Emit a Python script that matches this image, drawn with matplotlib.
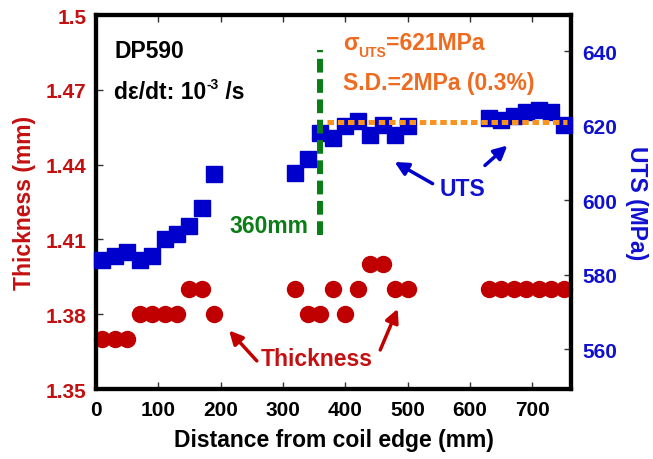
import matplotlib
matplotlib.use("Agg")
import matplotlib.pyplot as plt
from matplotlib.transforms import offset_copy

plt.rcParams['font.family'] = ['Liberation Sans', 'DejaVu Sans']
plt.rcParams['font.weight'] = 'bold'

# thickness measurements along the strip width
thick_x = [10, 30, 50, 70, 90, 110, 130, 150, 170, 190,
           320, 340, 360, 380, 400, 420, 440, 460, 480, 500,
           630, 650, 670, 690, 710, 730, 750]
thick_y = [1.37, 1.37, 1.37, 1.38, 1.38, 1.38, 1.38, 1.39, 1.39, 1.38,
           1.39, 1.38, 1.38, 1.39, 1.38, 1.39, 1.40, 1.40, 1.39, 1.39,
           1.39, 1.39, 1.39, 1.39, 1.39, 1.39, 1.39]

# tensile strength at the same positions
uts_x = [10, 30, 50, 70, 90, 110, 130, 150, 170, 190,
         320, 340, 360, 380, 400, 420, 440, 460, 480, 500,
         630, 650, 670, 690, 710, 730, 750]
uts_y = [584, 585, 586, 584, 585, 589.5, 591, 593, 598, 607,
         607.3, 611, 618, 616.6, 619.8, 621.4, 617.5, 620.2, 617.5, 620,
         622, 621.5, 622.7, 623.8, 624.3, 623.8, 620.2]

uts_mean = 621
cut_pos = 360

thick_ticks = [1.35, 1.38, 1.41, 1.44, 1.47, 1.5]
thick_labels = ['1.35', '1.38', '1.41', '1.44', '1.47', '1.5']
uts_ticks = [560, 580, 600, 620, 640]
x_ticks = [0, 100, 200, 300, 400, 500, 600, 700]

red = '#C00000'
red_txt = '#C41010'
blue = '#0000CC'
blue_txt = '#1010D0'
green = '#0A7D16'
orange = '#F7931E'
orange_txt = '#EE6B20'

fig = plt.figure(figsize=(6.53, 4.60), dpi=100)
ax = fig.add_axes([0.147, 0.152, 0.7274, 0.813])
ax2 = ax.twinx()


def run_text(x, y, pieces, color):
    # write pieces one after another; each piece is (text, size, rise in points)
    renderer = fig.canvas.get_renderer()
    dx = 0.0
    for s, size, rise in pieces:
        tr = offset_copy(ax.transData, fig=fig, x=dx, y=rise, units='points')
        t = ax.text(x, y, s, fontsize=size, fontweight='bold', color=color, transform=tr)
        dx += t.get_window_extent(renderer).width * 72.0 / fig.dpi


ax.plot(thick_x, thick_y, 'o', color=red, ms=11.5, mec=red, zorder=3, clip_on=False)
ax2.plot(uts_x, uts_y, 's', color=blue, ms=12, mec=blue, zorder=3, clip_on=False)

ax2.plot([370, 755], [uts_mean, uts_mean], color=orange, lw=3.6,
         linestyle=(0, (1.3, 0.75)), zorder=4)
ax2.plot([cut_pos, cut_pos], [590.7, 640.2], color=green, lw=4.3,
         linestyle=(0, (2.3, 1.1)), zorder=5)

ax.set_xlim(0, 762)
ax.set_ylim(1.35, 1.5)
ax2.set_ylim(549.3, 649.7)

ax.set_xticks(x_ticks)
ax.set_yticks(thick_ticks)
ax.set_yticklabels(thick_labels)
ax2.set_yticks(uts_ticks)

for sp in ax.spines.values():
    sp.set_linewidth(3)
for sp in ax2.spines.values():
    sp.set_linewidth(3)

ax.tick_params(axis='both', direction='in', length=5, width=1, color='#333333',
               labelsize=15, top=True, right=False)
ax.tick_params(axis='y', labelcolor=red_txt, pad=7)
ax.tick_params(axis='x', pad=8)
ax2.tick_params(axis='y', direction='in', length=5, width=1, color='#333333',
                labelsize=15, labelcolor=blue_txt, pad=8)

ax.set_xlabel('Distance from coil edge (mm)', fontsize=16.5, fontweight='bold', labelpad=6)
ax.set_ylabel('Thickness (mm)', fontsize=16.5, fontweight='bold', color=red_txt, labelpad=7)
ax2.set_ylabel('UTS (MPa)', fontsize=16.5, fontweight='bold', color=blue_txt,
               rotation=270, labelpad=22)

ax.text(29, 1.4831, 'DP590', fontsize=16.5, fontweight='bold', color='black')
run_text(29, 1.4667, [('dε/dt: 10', 16.5, 0), ('-3', 10, 7.5), (' /s', 16.5, 0)], 'black')
run_text(396, 1.4864, [('σ', 16.5, 0), ('UTS', 10, -5), ('=621MPa', 16.5, 0)], orange_txt)
ax.text(396, 1.4704, 'S.D.=2MPa (0.3%)', fontsize=16.5, fontweight='bold', color=orange_txt)
ax.text(213.5, 1.4131, '360mm', fontsize=16.5, fontweight='bold', color=green)

ax.text(551, 1.4277, 'UTS', fontsize=16.5, fontweight='bold', color=blue_txt)
arrow_b = dict(arrowstyle='-|>', color=blue, lw=2.5, mutation_scale=20, shrinkA=0, shrinkB=0)
ax.annotate('', xy=(479, 1.4411), xytext=(540, 1.4324), arrowprops=arrow_b)
ax.annotate('', xy=(660, 1.4477), xytext=(624, 1.4397), arrowprops=arrow_b)

ax.text(265, 1.3597, 'Thickness', fontsize=16.5, fontweight='bold', color=red_txt)
arrow_r = dict(arrowstyle='-|>', color=red, lw=2.5, mutation_scale=20, shrinkA=0, shrinkB=0)
ax.annotate('', xy=(213.5, 1.3735), xytext=(258, 1.3613), arrowprops=arrow_r)
ax.annotate('', xy=(484, 1.3822), xytext=(456, 1.3657), arrowprops=arrow_r)

fig.savefig('out.png', dpi=100)
